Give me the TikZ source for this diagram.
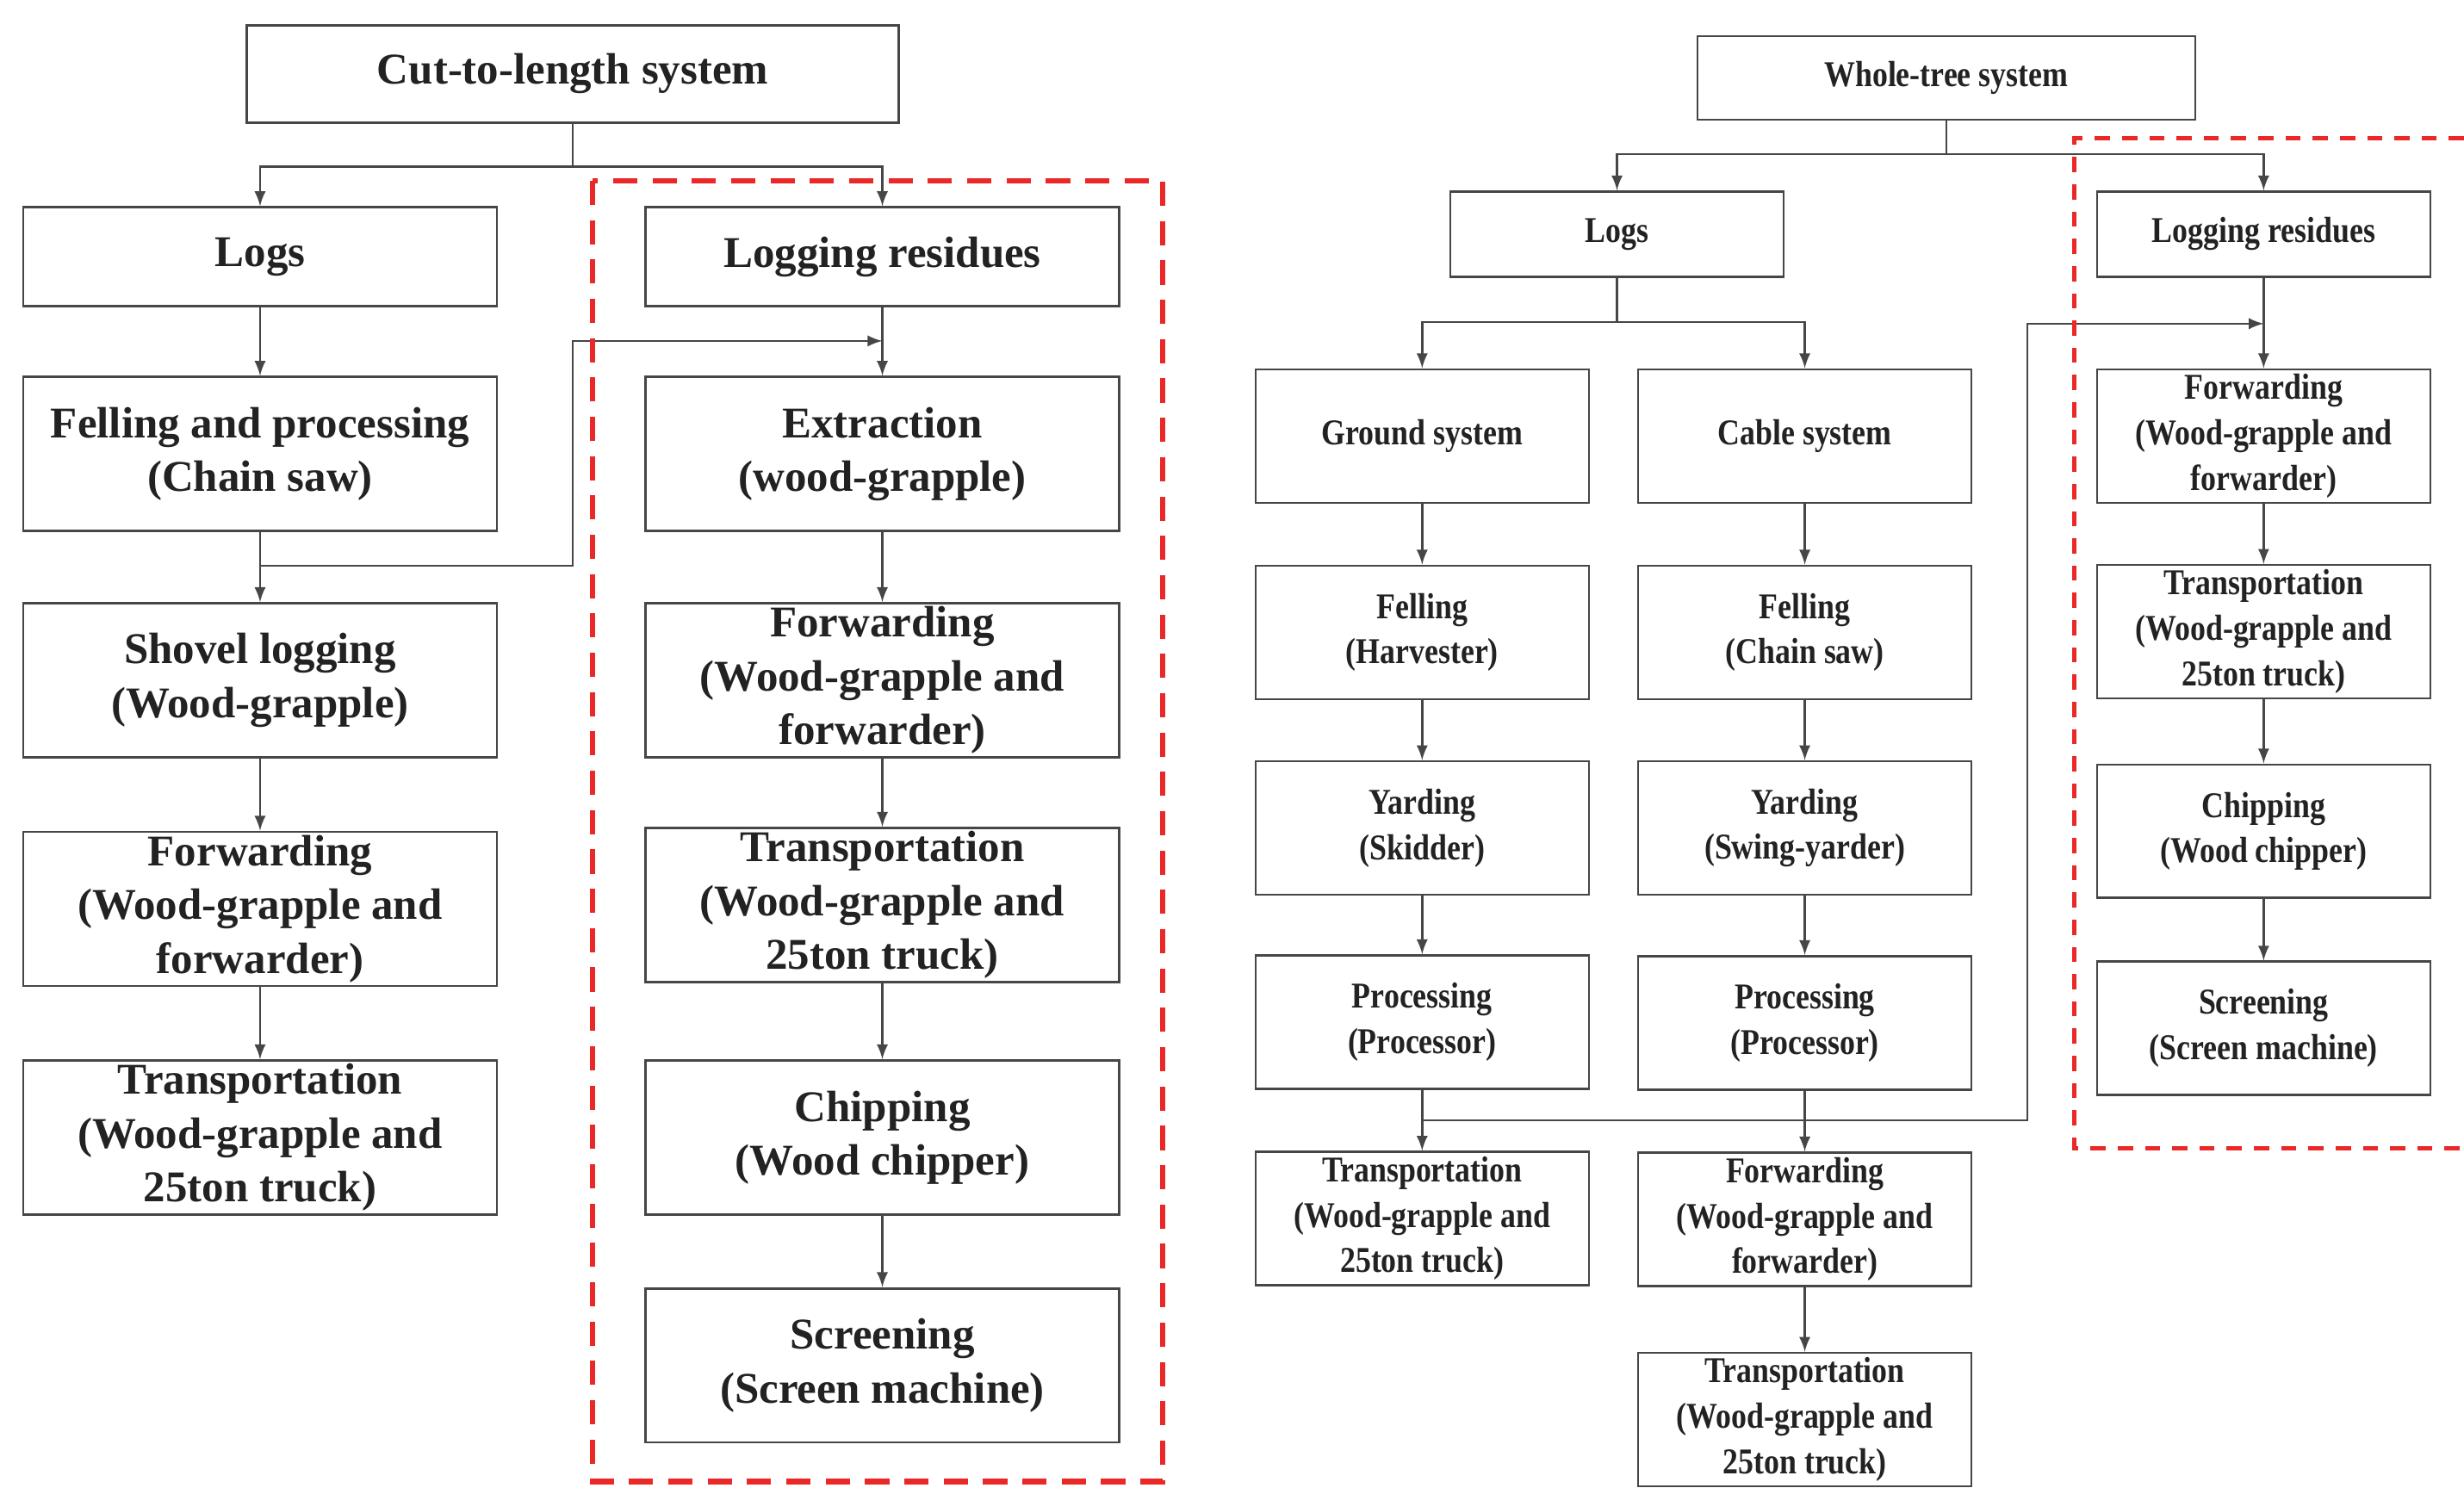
\documentclass[tikz,border=0pt]{standalone}
\usepackage{fontspec}
\setmainfont{Liberation Serif}
\newfontfamily\narrowfont[FakeStretch=0.85]{Liberation Serif}
\usetikzlibrary{arrows}
\definecolor{boxline}{RGB}{70,70,70}
\definecolor{txt}{RGB}{34,34,34}
\definecolor{resred}{RGB}{235,40,40}

\begin{document}
\begin{tikzpicture}[>=latex,x=0.018246cm,y=-0.018246cm,
	lstep/.style={draw=boxline,line width=0.8pt,text=txt,align=center,inner sep=1pt,
		minimum width=5.5cm,minimum height=1.79cm,font=\fontsize{14.5}{17.8}\selectfont\bfseries},
	ltop/.style={lstep,minimum height=1.15cm},
	rstep/.style={draw=boxline,line width=0.7pt,text=txt,align=center,inner sep=1pt,
		minimum width=3.87cm,minimum height=1.55cm,font=\narrowfont\fontsize{12}{15}\selectfont\bfseries},
	rtop/.style={rstep,minimum height=0.99cm},
	flow/.style={draw=boxline,line width=0.7pt}]

\useasboundingbox (0,0) rectangle (1568,947);

% cut-to-length system
\node[lstep,minimum width=7.57cm,minimum height=1.13cm] (ctl) at (364.5,47) {Cut-to-length system};
\node[ltop] (ctlogs) at (165.5,163.5) {Logs};
\node[ltop] (ctres) at (561.5,163.5) {Logging residues};
\node[lstep] (ctfell) at (165.5,289) {Felling and processing\\(Chain saw)};
\node[lstep] (ctshov) at (165.5,433) {Shovel logging\\(Wood-grapple)};
\node[lstep] (ctfwd) at (165.5,578.5) {Forwarding\\(Wood-grapple and\\forwarder)};
\node[lstep] (cttrans) at (165.5,724) {Transportation\\(Wood-grapple and\\25ton truck)};
\node[lstep] (ctext) at (561.5,289) {Extraction\\(wood-grapple)};
\node[lstep] (ctrfwd) at (561.5,433) {Forwarding\\(Wood-grapple and\\forwarder)};
\node[lstep] (ctrtrans) at (561.5,576) {Transportation\\(Wood-grapple and\\25ton truck)};
\node[lstep] (ctchip) at (561.5,724) {Chipping\\(Wood chipper)};
\node[lstep] (ctscreen) at (561.5,869) {Screening\\(Screen machine)};

\coordinate (ctbus) at (364.5,106);
\draw[flow] (ctl) -- (ctbus);
\draw[flow,->] (ctbus) -| (ctlogs);
\draw[flow,->] (ctbus) -| (ctres);
\draw[flow,->] (ctlogs) -- (ctfell);
\draw[flow,->] (ctfell) -- (ctshov);
\draw[flow,->] (ctshov) -- (ctfwd);
\draw[flow,->] (ctfwd) -- (cttrans);
\draw[flow,->] (ctres) -- (ctext);
\draw[flow,->] (ctext) -- (ctrfwd);
\draw[flow,->] (ctrfwd) -- (ctrtrans);
\draw[flow,->] (ctrtrans) -- (ctchip);
\draw[flow,->] (ctchip) -- (ctscreen);
\coordinate (ctsplit) at (165.5,360);
\coordinate (ctjoin) at (561.5,217);
\draw[flow,->] (ctsplit) -- ++(199,0) |- (ctjoin);

\draw[resred,line width=1.8pt,dash pattern=on 8pt off 5pt] (377,115) rectangle (740,943);

% whole-tree system
\node[rstep,minimum width=5.78cm,minimum height=0.97cm] (wt) at (1238.5,49.5) {Whole-tree system};
\node[rtop] (wtlogs) at (1029,149) {Logs};
\node[rtop] (wtres) at (1440.5,149) {Logging residues};
\node[rstep] (grsys) at (905,277.5) {Ground system};
\node[rstep] (cbsys) at (1148.5,277.5) {Cable system};
\node[rstep] (grfell) at (905,402.5) {Felling\\(Harvester)};
\node[rstep] (gryard) at (905,527) {Yarding\\(Skidder)};
\node[rstep] (grproc) at (905,650.5) {Processing\\(Processor)};
\node[rstep] (grtrans) at (905,775.5) {Transportation\\(Wood-grapple and\\25ton truck)};
\node[rstep] (cbfell) at (1148.5,402.5) {Felling\\(Chain saw)};
\node[rstep] (cbyard) at (1148.5,527) {Yarding\\(Swing-yarder)};
\node[rstep] (cbproc) at (1148.5,651) {Processing\\(Processor)};
\node[rstep] (cbfwd) at (1148.5,776) {Forwarding\\(Wood-grapple and\\forwarder)};
\node[rstep] (cbtrans) at (1148.5,903.5) {Transportation\\(Wood-grapple and\\25ton truck)};
\node[rstep] (wrfwd) at (1440.5,277.5) {Forwarding\\(Wood-grapple and\\forwarder)};
\node[rstep] (wrtrans) at (1440.5,402) {Transportation\\(Wood-grapple and\\25ton truck)};
\node[rstep] (wrchip) at (1440.5,529) {Chipping\\(Wood chipper)};
\node[rstep] (wrscreen) at (1440.5,654.5) {Screening\\(Screen machine)};

\coordinate (wtbus) at (1238.5,98);
\draw[flow] (wt) -- (wtbus);
\draw[flow,->] (wtbus) -| (wtlogs);
\draw[flow,->] (wtbus) -| (wtres);
\coordinate (lgbus) at (1029,205);
\draw[flow] (wtlogs) -- (lgbus);
\draw[flow,->] (lgbus) -| (grsys);
\draw[flow,->] (lgbus) -| (cbsys);
\draw[flow,->] (grsys) -- (grfell);
\draw[flow,->] (grfell) -- (gryard);
\draw[flow,->] (gryard) -- (grproc);
\draw[flow,->] (grproc) -- (grtrans);
\draw[flow,->] (cbsys) -- (cbfell);
\draw[flow,->] (cbfell) -- (cbyard);
\draw[flow,->] (cbyard) -- (cbproc);
\draw[flow,->] (cbproc) -- (cbfwd);
\draw[flow,->] (cbfwd) -- (cbtrans);
\draw[flow,->] (wtres) -- (wrfwd);
\draw[flow,->] (wrfwd) -- (wrtrans);
\draw[flow,->] (wrtrans) -- (wrchip);
\draw[flow,->] (wrchip) -- (wrscreen);
\coordinate (grsplit) at (905,713);
\coordinate (wrjoin) at (1440.5,206);
\draw[flow,->] (grsplit) -- ++(385,0) |- (wrjoin);

\draw[resred,line width=1.4pt,dash pattern=on 5pt off 4pt] (1568,88) -- (1320,88) -- (1320,731) -- (1568,731);

\end{tikzpicture}
\end{document}
